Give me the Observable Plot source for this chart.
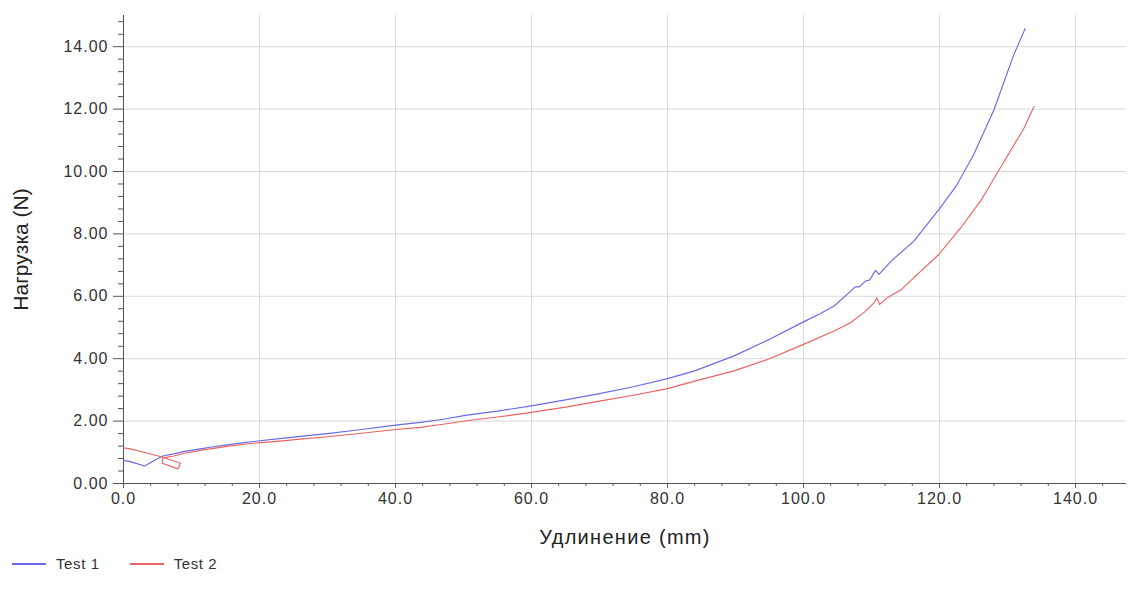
<!DOCTYPE html>
<html>
<head>
<meta charset="utf-8">
<script src="https://cdn.jsdelivr.net/npm/d3@7"></script>
<script src="https://cdn.jsdelivr.net/npm/@observablehq/plot@0.6"></script>
<style>
  html, body { margin: 0; padding: 0; background: #fff; }
  body { width: 1129px; height: 596px; overflow: hidden; font-family: "Liberation Sans", Arial, sans-serif; }
  #legend { position: absolute; left: 12px; top: 555px; display: flex; align-items: center; font-size: 15px; letter-spacing: 0.6px; color: #333; }
  #legend .item { display: flex; align-items: center; margin-right: 30px; }
  #legend .swatch { width: 34px; height: 0; border-top: 2px solid; margin-right: 10px; }
  .ticklab text { letter-spacing: 1px; }
</style>
</head>
<body>
<div id="chart"></div>
<div id="legend"></div>
<script>
// ---- data ----
const seriesNames = ["Test 1", "Test 2"];
const seriesColors = ["#6a6ae6", "#ec6262"];

const test1X = [0, 1.0, 3.1, 5.0, 5.9, 7.4, 9, 11.3, 13, 15, 17.5, 20, 23, 26, 30, 35, 40, 43.7, 47, 50.5, 55, 60, 65, 70, 75, 80, 84, 89.8, 95, 100, 102.5, 104.5, 106.7, 107.6, 108.2, 109.2, 109.7, 110.6, 111.1, 113, 116.2, 119.9, 122.5, 125, 128, 130.9, 132.6];
const test1Y = [0.74, 0.70, 0.56, 0.79, 0.89, 0.95, 1.03, 1.11, 1.17, 1.23, 1.30, 1.37, 1.44, 1.51, 1.60, 1.73, 1.87, 1.96, 2.06, 2.19, 2.32, 2.49, 2.68, 2.88, 3.10, 3.36, 3.61, 4.09, 4.62, 5.18, 5.45, 5.69, 6.12, 6.30, 6.30, 6.50, 6.52, 6.83, 6.70, 7.15, 7.76, 8.78, 9.55, 10.53, 11.97, 13.73, 14.58];

const test2X = [0, 1.0, 3.0, 5.8, 8.4, 8.0, 5.7, 5.8, 7.4, 9, 11.3, 13, 15, 17.5, 20, 23, 26, 30, 35, 40, 43.7, 47, 50.5, 55, 60, 65, 70, 75, 80, 84, 89.8, 95, 100, 104.5, 106.9, 109, 110.4, 110.8, 111.2, 112.3, 114.3, 116.2, 119.9, 123.1, 126.0, 128.5, 132.4, 133.9];
const test2Y = [1.14, 1.11, 1.00, 0.84, 0.65, 0.47, 0.65, 0.82, 0.88, 0.97, 1.06, 1.12, 1.18, 1.25, 1.31, 1.36, 1.42, 1.50, 1.61, 1.73, 1.80, 1.90, 2.01, 2.13, 2.28, 2.45, 2.64, 2.83, 3.04, 3.28, 3.61, 4.00, 4.46, 4.89, 5.15, 5.50, 5.80, 5.95, 5.74, 5.95, 6.20, 6.59, 7.34, 8.19, 9.04, 9.95, 11.38, 12.08];

const xMajorTicks = [0, 20, 40, 60, 80, 100, 120, 140];
const yMajorTicks = [0, 2, 4, 6, 8, 10, 12, 14];
const xLabel = "Удлинение (mm)";
const yLabel = "Нагрузка (N)";

// ---- build table ----
const rows = [];
test1X.forEach((x, i) => rows.push({series: seriesNames[0], x, y: test1Y[i]}));
test2X.forEach((x, i) => rows.push({series: seriesNames[1], x, y: test2Y[i]}));

const xMinorTicks = d3.range(0, 37).map(i => i * 4).filter(v => v % 20 !== 0);
const yMinorTicks = d3.range(0, 38).map(i => +(i * 0.4).toFixed(1)).filter((v, i) => i % 5 !== 0);

const axisColor = "#555";
const textColor = "#333";

const chart = Plot.plot({
  width: 1129,
  height: 550,
  marginLeft: 123,
  marginRight: 3,
  marginTop: 15,
  marginBottom: 67,
  style: {fontFamily: "'Liberation Sans', Arial, sans-serif", fontSize: "16px", color: textColor, background: "#fff"},
  x: {domain: [0, 147.5]},
  y: {domain: [0, 15]},
  color: {domain: seriesNames, range: seriesColors},
  marks: [
    Plot.gridX({ticks: xMajorTicks, stroke: "#d9d9d9", strokeOpacity: 1}),
    Plot.gridY({ticks: yMajorTicks, stroke: "#d9d9d9", strokeOpacity: 1}),
    Plot.axisX({ticks: xMinorTicks, tickSize: 3, text: null, stroke: axisColor, label: null}),
    Plot.axisY({ticks: yMinorTicks, tickSize: 5, text: null, stroke: axisColor, label: null}),
    Plot.axisX({ticks: xMajorTicks, tickSize: 5, tickPadding: 4, tickFormat: d3.format(".1f"), stroke: axisColor, fill: textColor, fontSize: 16, label: null, className: "ticklab"}),
    Plot.axisY({ticks: yMajorTicks, tickSize: 10, tickPadding: 5, tickFormat: d3.format(".2f"), stroke: axisColor, fill: textColor, fontSize: 16, label: null, className: "ticklab"}),
    Plot.ruleX([0], {stroke: axisColor}),
    Plot.ruleY([0], {stroke: axisColor}),
    Plot.line(rows, {x: "x", y: "y", z: "series", stroke: "series", strokeWidth: 1.15, curve: "linear"}),
    Plot.text([xLabel], {text: d => d, frameAnchor: "bottom", lineAnchor: "middle", textAnchor: "middle", dy: 54, fontSize: 20, fill: "#222", className: "xlab"}),
    Plot.text([yLabel], {text: d => d, frameAnchor: "left", lineAnchor: "middle", textAnchor: "middle", rotate: -90, dx: -102, fontSize: 21, fill: "#222"})
  ]
});
document.getElementById("chart").appendChild(chart);
chart.querySelectorAll(".xlab text").forEach(t => t.style.letterSpacing = "1.3px");

const legend = document.getElementById("legend");
seriesNames.forEach((name, i) => {
  const item = document.createElement("div");
  item.className = "item";
  const sw = document.createElement("span");
  sw.className = "swatch";
  sw.style.borderTopColor = seriesColors[i];
  const label = document.createElement("span");
  label.textContent = name;
  item.appendChild(sw);
  item.appendChild(label);
  legend.appendChild(item);
});
</script>
</body>
</html>
